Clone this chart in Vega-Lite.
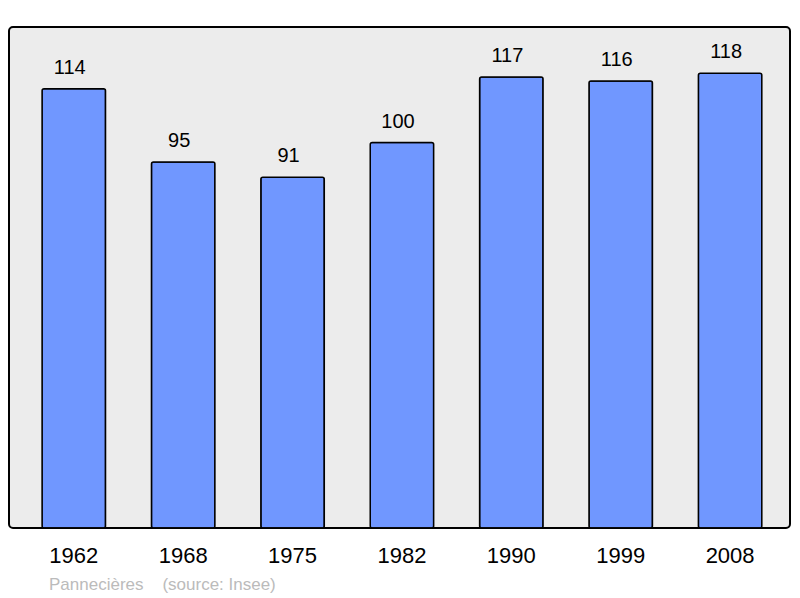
{
  "$schema": "https://vega.github.io/schema/vega-lite/v6.json",
  "width": 781,
  "height": 501,
  "autosize": {"type": "none"},
  "padding": {"left": 9, "top": 27, "right": 10, "bottom": 70},
  "background": "#ffffff",
  "config": {
    "view": {"fill": "#ececec", "stroke": "#000000", "strokeWidth": 2, "cornerRadius": 4},
    "font": "Liberation Sans"
  },
  "title": {
    "text": "Pannecières\u00a0\u00a0\u00a0\u00a0(source: Insee)",
    "orient": "bottom",
    "anchor": "start",
    "offset": 11,
    "dx": 40,
    "fontSize": 17,
    "fontWeight": "normal",
    "color": "#bbbbbb",
    "font": "Liberation Sans"
  },
  "data": {
    "values": [
      {"year": "1962", "pop": 114},
      {"year": "1968", "pop": 95},
      {"year": "1975", "pop": 91},
      {"year": "1982", "pop": 100},
      {"year": "1990", "pop": 117},
      {"year": "1999", "pop": 116},
      {"year": "2008", "pop": 118}
    ]
  },
  "encoding": {
    "x": {
      "field": "year",
      "type": "nominal",
      "scale": {"paddingInner": 0.42, "paddingOuter": 0.28, "align": 0.54},
      "axis": {
        "title": null,
        "labelAngle": 0,
        "domain": false,
        "ticks": false,
        "labelFontSize": 22,
        "labelColor": "#000000",
        "labelPadding": 17,
        "labelFont": "Liberation Sans"
      }
    },
    "y": {
      "field": "pop",
      "type": "quantitative",
      "scale": {"domain": [0, 130]},
      "axis": null
    }
  },
  "layer": [
    {
      "mark": {"type": "bar", "fill": "#7097ff", "stroke": "#000000", "strokeWidth": 1.5, "cornerRadius": 2}
    },
    {
      "mark": {"type": "text", "baseline": "bottom", "dy": -11, "dx": -4, "fontSize": 20, "color": "#000000", "font": "Liberation Sans"},
      "encoding": {"text": {"field": "pop", "type": "quantitative"}}
    }
  ]
}
